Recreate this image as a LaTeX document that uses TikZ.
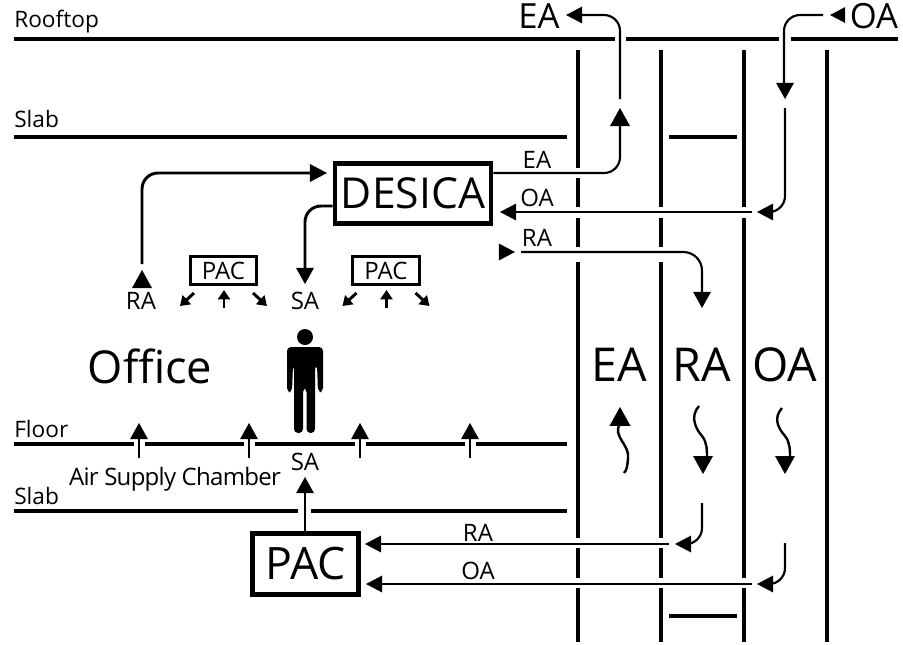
\documentclass[tikz,border=0pt]{standalone}
\usepackage{fontspec}
\setmainfont{Open Sans}
\usetikzlibrary{arrows.meta}
\tikzset{
  x=0.75pt,y=-0.75pt,
  bar/.style={line width=3.6pt,black},
  thinbar/.style={line width=2.3pt,black},
  duct/.style={line width=3.6pt,black},
  flow/.style={line width=1.6pt,black},
  lab/.style={inner sep=0pt,anchor=base west,font=\fontsize{17}{17}\selectfont},
  mid/.style={inner sep=0pt,font=\fontsize{18}{18}\selectfont},
  big/.style={inner sep=0pt,font=\fontsize{35}{35}\selectfont},
  top/.style={inner sep=0pt,font=\fontsize{26}{26}\selectfont},
  sm/.style={-{Triangle[length=7pt,width=9pt]},line width=2.2pt},
}
\newcommand{\hdU}[3]{\fill (#1,#2) -- (#1-#3/2,#2+#3*0.9) -- (#1+#3/2,#2+#3*0.9) -- cycle;}
\newcommand{\hdD}[3]{\fill (#1,#2) -- (#1-#3/2,#2-#3*0.9) -- (#1+#3/2,#2-#3*0.9) -- cycle;}
\newcommand{\hdL}[3]{\fill (#1,#2) -- (#1+#3*0.95,#2-#3/2) -- (#1+#3*0.95,#2+#3/2) -- cycle;}
\newcommand{\hdR}[3]{\fill (#1,#2) -- (#1-#3*0.95,#2-#3/2) -- (#1-#3*0.95,#2+#3/2) -- cycle;}
\begin{document}
\begin{tikzpicture}
\useasboundingbox (0,0) rectangle (903,644);
% horizontal structure
\draw[bar] (14,39) -- (615,39) (626,39) -- (779,39) (791,39) -- (898,39);
\draw[bar] (14,137) -- (567,137) (669,137) -- (737,137);
\draw[thinbar] (14,444) -- (134,444) (145,444) -- (244,444) (255,444) -- (355,444) (366,444) -- (465,444) (476,444) -- (567,444);
\draw[bar] (14,511) -- (298,511) (311,511) -- (567,511);
\draw[bar] (669,616) -- (737,616);
% ducts
\draw[duct] (578,50) -- (578,168) (578,178) -- (578,207) (578,218) -- (578,247) (578,262) -- (578,538) (578,548) -- (578,578) (578,588) -- (578,642);
\draw[line width=3pt] (661,50) -- (661,207) (661,218) -- (661,247) (661,262) -- (661,538) (661,548) -- (661,578) (661,588) -- (661,642);
\draw[duct] (744,50) -- (744,207) (744,218) -- (744,578) (744,588) -- (744,642);
\draw[duct] (827,50) -- (827,642);
% boxes
\node[draw,line width=3.6pt,minimum width=117pt,minimum height=45pt,inner sep=0pt,font=\fontsize{32}{32}\selectfont] (desica) at (413,193.5) {DESICA};
\node[draw,line width=3.6pt,minimum width=79.5pt,minimum height=46pt,inner sep=0pt,font=\fontsize{33.5}{33.5}\selectfont] (pac) at (305.5,564) {PAC};
\node[draw,line width=2.2pt,minimum width=50pt,minimum height=21.5pt,inner sep=0pt,font=\fontsize{18}{18}\selectfont] (pacl) at (223.5,270.5) {PAC};
\node[draw,line width=2.2pt,minimum width=50pt,minimum height=21.5pt,inner sep=0pt,font=\fontsize{18}{18}\selectfont] (pacr) at (386,270.5) {PAC};
% labels
\node[lab] (roof) at (14,27) {Rooftop};
\node[lab] (s1) at (14,127) {Slab};
\node[lab] (fl) at (14,437) {Floor};
\node[lab] (s2) at (14,504) {Slab};
\node[inner sep=0pt,font=\fontsize{34}{34}\selectfont] (office) at (150,366) {Office};
\node[mid] (ach) at (175,479) {\addfontfeature{LetterSpace=-3}Air Supply Chamber};
\node[mid] (saa) at (305,462) {SA};
\node[mid] (ra1) at (141,301) {RA};
\node[mid] (sa1) at (305,301) {SA};
\node[mid] (lea) at (537,160) {EA};
\node[mid] (loa) at (537,198) {OA};
\node[mid] (lra) at (537,238) {RA};
\node[mid] (lra2) at (478,533) {RA};
\node[mid] (loa2) at (478,571) {OA};
\node[top] (tea) at (539,16) {EA};
\node[top] (toa) at (874,16) {OA};
\node[big] (cea) at (619,365) {EA};
\node[big] (cra) at (702,365) {RA};
\node[big] (coa) at (785,365) {OA};
% floor arrows
\foreach \x in {139,249,360,470}{
  \draw[line width=1.6pt] (\x,458) -- (\x,435);
  \hdU{\x}{423}{18}
}
% PAC up to SA
\coordinate (saT) at (305,490);
\draw[line width=2pt] (pac.north -| saT) -- (saT);
\hdU{305}{477}{18}
% RA return to DESICA
\coordinate (ra0) at (142,264);
\coordinate (ra9) at (312,173);
\draw[line width=2.2pt,rounded corners=12] (ra0) -- (142,173) -- (ra9);
\hdR{327}{173}{18}
\hdU{142}{270}{20}
% DESICA SA
\coordinate (sa9) at (305,270);
\draw[line width=2.2pt,rounded corners=12] (desica.west |- 0,206) -- (305,206) -- (sa9);
\hdD{305}{284}{18}
% top EA
\coordinate (ea0) at (620,99);
\coordinate (ea1) at (580,15);
\draw[flow,rounded corners=12] (ea0) -- (620,15) -- (ea1);
\hdL{566}{15}{17}
\coordinate (eb1) at (620,126);
\draw[flow,rounded corners=12] (desica.east |- 0,173) -- (620,173) -- (eb1);
\hdU{620}{108}{20}
% top OA
\coordinate (oa0) at (823,15);
\coordinate (oa1) at (784,85);
\draw[flow,rounded corners=12] (oa0) -- (784,15) -- (oa1);
\hdD{785}{99}{18}
\hdL{830}{15}{16}
\coordinate (oc0) at (785,108);
\coordinate (oc1) at (773,212);
\draw[flow,rounded corners=12] (oc0) -- (785,212) -- (oc1);
\hdL{757}{212}{17}
% OA to DESICA
\coordinate (od0) at (752,212);
\coordinate (od1) at (514,212);
\draw[flow] (od0) -- (od1);
\hdL{500}{212}{17}
% RA from DESICA
\coordinate (re0) at (521,252);
\coordinate (re1) at (702,295);
\draw[flow,rounded corners=14] (re0) -- (702,252) -- (re1);
\hdR{515}{252}{17}
\hdD{702}{308}{18}
% RA / OA to PAC
\coordinate (p0) at (669,544);
\coordinate (p1) at (380,544);
\draw[flow] (p0) -- (p1);
\hdL{365}{544}{17}
\coordinate (q0) at (752,584);
\coordinate (q1) at (380,584);
\draw[flow] (q0) -- (q1);
\hdL{366}{584}{17}
\coordinate (r0) at (702,503);
\coordinate (r1) at (689,544);
\draw[flow,rounded corners=12] (r0) -- (702,544) -- (r1);
\hdL{675}{544}{17}
\coordinate (s0) at (785,543);
\coordinate (s1b) at (772,584);
\draw[flow,rounded corners=12] (s0) -- (785,584) -- (s1b);
\hdL{757}{584}{17}
% wavy
\draw[line width=1.8pt] (620,424) .. controls (612,436) and (630,445) .. (628,458) .. controls (627.5,465) and (627,470) .. (624,473);
\hdU{620}{407}{21}
\draw[line width=1.8pt] (699,406) .. controls (690,416) and (695,428) .. (702,436) .. controls (707,442) and (707,450) .. (707,458);
\hdD{703}{474}{20}
\draw[line width=1.8pt] (782,408) .. controls (773,418) and (778,428) .. (785,436) .. controls (790,442) and (790,450) .. (790,458);
\hdD{785}{474}{20}
% small arrows
\foreach \dx in {0,162.5}{
  \draw[sm] (224+\dx,308) -- (224+\dx,290);
  \draw[sm] (194+\dx,293) -- (180+\dx,306);
  \draw[sm] (253+\dx,293) -- (267+\dx,306);
}
% person
\fill (305,337) circle (8);
\fill[rounded corners=3] (287,347) -- (323,347) -- (323,392) -- (318,392) -- (317,365) -- (315,365) -- (315,433) -- (306.5,433) -- (306.5,388) -- (303,388) -- (303,433) -- (294,433) -- (294,365) -- (293,365) -- (292,392) -- (287,392) -- cycle;
\end{tikzpicture}
\end{document}
